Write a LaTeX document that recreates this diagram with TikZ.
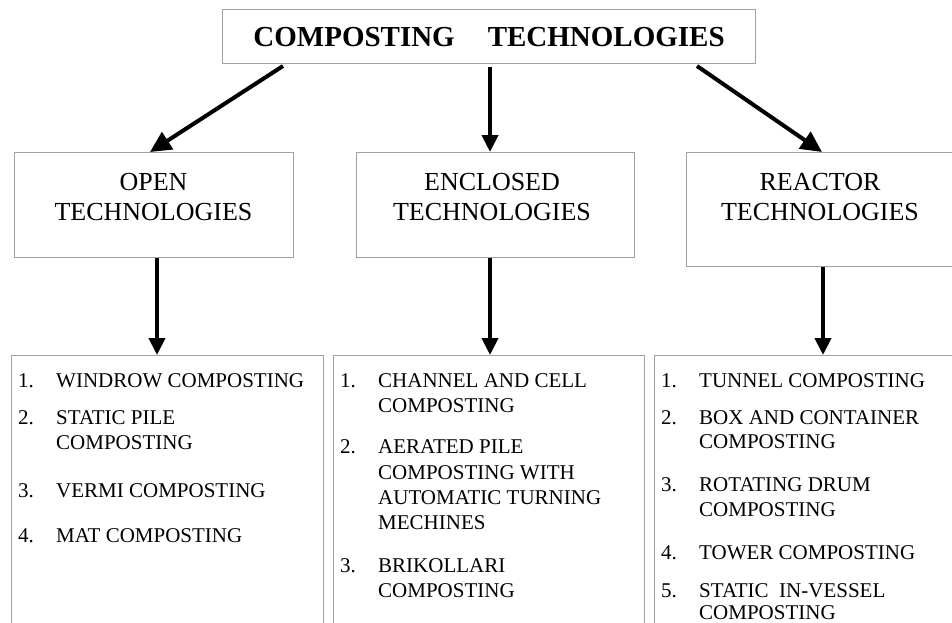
\documentclass[tikz,border=0pt]{standalone}
\usepackage{fontspec}
\setmainfont{Liberation Serif}
\usetikzlibrary{arrows.meta}
\definecolor{framegray}{RGB}{160,160,160}
\newcommand\listfont{\fontsize{21}{25}\selectfont}
\newcommand\headfont{\fontsize{26}{30}\selectfont}
\begin{document}
\begin{tikzpicture}[x=1pt,y=-1pt,
  frame/.style={draw=framegray, line width=1.1pt, inner sep=0pt, anchor=north west},
  head/.style={anchor=base, inner sep=0pt, font=\headfont},
  item/.style={anchor=base west, inner sep=0pt, font=\listfont},
  arr/.style={line width=4pt, -{Triangle[length=17pt,width=16pt]}},
  darr/.style={line width=4pt, -{Triangle[length=21pt,width=20pt]}}
]
\path[use as bounding box] (0,0) rectangle (952,622);
\clip (0,0) rectangle (952,622);

% title
\node[frame, minimum width=533pt, minimum height=54pt,
      font=\fontsize{29}{34}\bfseries\selectfont] (title) at (222,9)
  {COMPOSTING\hspace{33pt}TECHNOLOGIES};

% second row
\node[frame, minimum width=279pt, minimum height=105pt] (open) at (14,152) {};
\node[frame, minimum width=278pt, minimum height=105pt] (encl) at (356,152) {};
\node[frame, minimum width=290pt, minimum height=114pt] (reac) at (686,152) {};

\node[head] (openA) at (153.5,190) {OPEN};
\node[head] (openB) at (153.5,220) {TECHNOLOGIES};
\node[head] (enclA) at (492,190) {ENCLOSED};
\node[head] (enclB) at (492,220) {TECHNOLOGIES};
\node[head] (reacA) at (820,190) {REACTOR};
\node[head] (reacB) at (820,220) {TECHNOLOGIES};

% third row
\node[frame, minimum width=312pt, minimum height=300pt] (openL) at (11,355) {};
\node[frame, minimum width=311pt, minimum height=300pt] (enclL) at (333,355) {};
\node[frame, minimum width=320pt, minimum height=300pt] (reacL) at (654,355) {};

% open list
\node[item] (o1n) at (18,387) {1.};
\node[item] (o1a) at (56,387) {WINDROW COMPOSTING};
\node[item] (o2n) at (18,424) {2.};
\node[item] (o2a) at (56,424) {STATIC PILE};
\node[item] (o2b) at (56,449) {COMPOSTING};
\node[item] (o3n) at (18,497) {3.};
\node[item] (o3a) at (56,497) {VERMI COMPOSTING};
\node[item] (o4n) at (18,542) {4.};
\node[item] (o4a) at (56,542) {MAT COMPOSTING};

% enclosed list
\node[item] (e1n) at (340,387) {1.};
\node[item] (e1a) at (378,387) {CHANNEL AND CELL};
\node[item] (e1b) at (378,412) {COMPOSTING};
\node[item] (e2n) at (340,453) {2.};
\node[item] (e2a) at (378,453) {AERATED PILE};
\node[item] (e2b) at (378,479) {COMPOSTING WITH};
\node[item] (e2c) at (378,504) {AUTOMATIC TURNING};
\node[item] (e2d) at (378,529) {MECHINES};
\node[item] (e3n) at (340,572) {3.};
\node[item] (e3a) at (378,572) {BRIKOLLARI};
\node[item] (e3b) at (378,597) {COMPOSTING};

% reactor list
\node[item] (r1n) at (661,387) {1.};
\node[item] (r1a) at (699,387) {TUNNEL COMPOSTING};
\node[item] (r2n) at (661,424) {2.};
\node[item] (r2a) at (699,424) {BOX AND CONTAINER};
\node[item] (r2b) at (699,448) {COMPOSTING};
\node[item] (r3n) at (661,491) {3.};
\node[item] (r3a) at (699,491) {ROTATING DRUM};
\node[item] (r3b) at (699,516) {COMPOSTING};
\node[item] (r4n) at (661,559) {4.};
\node[item] (r4a) at (699,559) {TOWER COMPOSTING};
\node[item] (r5n) at (661,597) {5.};
\node[item] (r5a) at (699,597) {STATIC\ \ IN-VESSEL};
\node[item] (r5b) at (699,619) {COMPOSTING};

% connectors
\coordinate (tL) at (283,66);
\coordinate (tM) at (490,67);
\coordinate (tR) at (697,66);
\draw[darr] (tL) -- (open.north -| 150,0);
\draw[arr] (tM) -- (tM |- encl.north);
\draw[darr] (tR) -- (reac.north -| 822,0);

\draw[arr] (open.south -| 157,0) -- (openL.north -| 157,0);
\draw[arr] (encl.south -| 490,0) -- (enclL.north -| 490,0);
\draw[arr] (reac.south -| 823,0) -- (reacL.north -| 823,0);
\end{tikzpicture}
\end{document}
